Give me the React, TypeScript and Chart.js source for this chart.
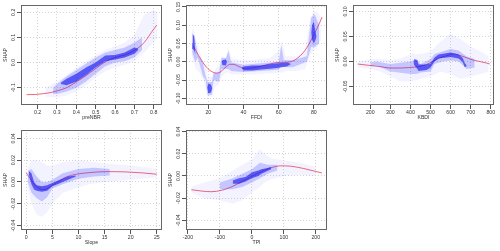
import React, { useEffect, useRef } from 'react';
import { Chart, registerables } from 'chart.js';

Chart.register(...registerables);

const FONT_FAMILY = "'Liberation Sans', Arial, sans-serif";
const FONT_SIZE = 5.2;
const TEXT_COLOR = '#333';

// ---- preNBR panel ([x, upper, lower] bands of the point cloud, fitted curve [x, y]) ----
const NBR_X_TICKS = [0.2, 0.3, 0.4, 0.5, 0.6, 0.7, 0.8];
const NBR_X_LABELS = ['0.2', '0.3', '0.4', '0.5', '0.6', '0.7', '0.8'];
const NBR_Y_TICKS = [-0.1, 0.0, 0.1, 0.2];
const NBR_Y_LABELS = ['-0.1', '0.0', '0.1', '0.2'];
const NBR_HALO: [number, number, number][] = [
  [0.24, -0.1, -0.135], [0.3, -0.075, -0.14], [0.35, -0.05, -0.13], [0.4, -0.02, -0.115],
  [0.45, 0.005, -0.09], [0.5, 0.03, -0.06], [0.55, 0.05, -0.035], [0.6, 0.065, -0.02],
  [0.65, 0.08, -0.01], [0.7, 0.11, 0.005], [0.75, 0.19, 0.04], [0.8, 0.21, 0.08], [0.82, 0.2, 0.1],
];
const NBR_MID: [number, number, number][] = [
  [0.28, -0.1, -0.125], [0.3, -0.085, -0.125], [0.35, -0.055, -0.115], [0.4, -0.03, -0.1],
  [0.45, -0.005, -0.075], [0.5, 0.02, -0.045], [0.55, 0.04, -0.015], [0.6, 0.05, 0.0],
  [0.65, 0.06, 0.005], [0.7, 0.08, 0.02], [0.74, 0.1, 0.05],
];
const NBR_CORE: [number, number, number][] = [
  [0.32, -0.08, -0.085], [0.35, -0.065, -0.09], [0.4, -0.045, -0.075], [0.45, -0.02, -0.05],
  [0.5, 0.0, -0.02], [0.55, 0.028, 0.005], [0.6, 0.03, 0.012], [0.65, 0.04, 0.02],
  [0.7, 0.06, 0.035], [0.72, 0.055, 0.05],
];
const NBR_FIT: [number, number][] = [
  [0.143, -0.128], [0.19, -0.127], [0.229, -0.124], [0.27, -0.119], [0.3, -0.113], [0.35, -0.1],
  [0.4, -0.077], [0.45, -0.052], [0.5, -0.024], [0.55, 0.003], [0.6, 0.02], [0.65, 0.03],
  [0.7, 0.048], [0.75, 0.079], [0.8, 0.133], [0.816, 0.149],
];

// ---- FFDI panel ----
const FFDI_X_TICKS = [20, 40, 60, 80];
const FFDI_X_LABELS = ['20', '40', '60', '80'];
const FFDI_Y_TICKS = [-0.1, -0.05, 0.0, 0.05, 0.1, 0.15];
const FFDI_Y_LABELS = ['-0.10', '-0.05', '0.00', '0.05', '0.10', '0.15'];
const FFDI_HALO: [number, number, number][] = [
  [10.5, 0.08, 0.02], [11.5, 0.095, 0.0], [13, 0.06, -0.02], [15, 0.03, -0.03], [17, 0.0, -0.05],
  [18.5, -0.01, -0.07], [19.5, -0.04, -0.095], [22, -0.04, -0.095], [24, -0.02, -0.07],
  [26, -0.01, -0.06], [27.5, 0.015, -0.04], [30, 0.012, -0.03], [31.5, 0.04, -0.03],
  [33, 0.01, -0.035], [38, 0.005, -0.035], [45, 0.005, -0.035], [55, 0.01, -0.032],
  [60, 0.03, -0.03], [62, 0.055, -0.03], [64, 0.015, -0.025], [70, 0.015, -0.025],
  [75, 0.03, -0.02], [78, 0.12, 0.02], [80, 0.14, 0.03], [82, 0.135, 0.04], [84, 0.12, 0.06],
];
const FFDI_MID: [number, number, number][] = [
  [10.8, 0.08, 0.025], [12.5, 0.06, 0.0], [14, 0.02, 0.01], [17, -0.005, -0.04], [18.5, -0.04, -0.05],
  [19.5, -0.055, -0.09], [22, -0.055, -0.09], [23, -0.03, -0.05], [26, -0.03, -0.055],
  [27.5, 0.01, -0.02], [30, 0.01, -0.02], [31.5, 0.03, -0.02], [33, -0.002, -0.025],
  [40, -0.008, -0.028], [50, -0.004, -0.025], [60, 0.0, -0.022], [61.5, 0.045, -0.01],
  [63, 0.005, -0.015], [68, 0.004, -0.015], [76, 0.015, 0.0], [78.5, 0.12, 0.04],
  [80.5, 0.13, 0.04], [83, 0.1, 0.05],
];
const FFDI_CORE: [number, number, number][] = [
  [10.8, 0.05, 0.05], [11.2, 0.075, 0.035], [12, 0.07, 0.03], [12.6, 0.02, 0.02],
  [19.4, -0.07, -0.07], [20, -0.06, -0.086], [21.5, -0.062, -0.084], [22.2, -0.072, -0.072],
  [27.6, 0.0, 0.0], [28, 0.004, -0.009], [30, 0.006, -0.01], [30.6, 0.0, 0.0],
  [39, -0.018, -0.018], [40, -0.013, -0.024], [45, -0.01, -0.024], [50, -0.01, -0.021],
  [55, -0.007, -0.019], [60, -0.004, -0.016], [65, -0.002, -0.012], [67, -0.006, -0.006],
  [78.6, 0.08, 0.08], [79, 0.1, 0.06], [80, 0.11, 0.05], [81, 0.08, 0.06], [81.6, 0.07, 0.07],
];
const FFDI_FIT: [number, number][] = [
  [11.5, 0.043], [13, 0.03], [14.5, 0.017], [16, 0.005], [17.5, -0.006], [19, -0.015],
  [20.5, -0.022], [22.5, -0.028], [24.5, -0.031], [26.5, -0.029], [28.5, -0.021], [30.5, -0.012],
  [32.5, -0.007], [34.5, -0.007], [36.5, -0.011], [39, -0.016], [42, -0.018], [46, -0.016],
  [50, -0.012], [55, -0.006], [60, -0.002], [65, -0.001], [68, 0.002], [71, 0.011], [74, 0.025],
  [77, 0.046], [80, 0.074], [82.5, 0.098], [84.7, 0.122],
];

// ---- KBDI panel ----
const KBDI_X_TICKS = [200, 300, 400, 500, 600, 700, 800];
const KBDI_X_LABELS = ['200', '300', '400', '500', '600', '700', '800'];
const KBDI_Y_TICKS = [-0.05, 0.0, 0.05, 0.1];
const KBDI_Y_LABELS = ['-0.05', '0.00', '0.05', '0.10'];
const KBDI_HALO: [number, number, number][] = [
  [140, 0.0, -0.012], [200, 0.005, -0.015], [250, 0.005, -0.02], [300, 0.003, -0.03],
  [350, 0.006, -0.04], [400, 0.015, -0.04], [450, 0.015, -0.035], [500, 0.02, -0.03],
  [550, 0.04, -0.02], [600, 0.055, -0.025], [650, 0.045, -0.035], [700, 0.03, -0.03],
  [750, 0.02, -0.025], [790, 0.01, -0.02],
];
const KBDI_MID: [number, number, number][] = [
  [200, -0.002, -0.01], [230, 0.0, -0.008], [300, -0.005, -0.02], [400, 0.0, -0.025],
  [430, 0.005, -0.025], [450, -0.005, -0.022], [500, 0.005, -0.02], [520, 0.015, -0.005],
  [560, 0.02, 0.0], [600, 0.025, 0.002], [640, 0.022, 0.0], [680, 0.01, -0.015], [720, 0.005, -0.012],
];
const KBDI_CORE: [number, number, number][] = [
  [415, -0.003, -0.003], [420, 0.005, -0.008], [435, 0.002, -0.015], [440, -0.006, -0.019],
  [480, -0.006, -0.017], [500, -0.004, -0.012], [520, 0.008, 0.0], [540, 0.014, 0.006],
  [600, 0.018, 0.009], [640, 0.014, 0.006], [660, 0.007, -0.001], [670, -0.003, -0.011],
  [680, -0.008, -0.01],
];
const KBDI_FIT: [number, number][] = [
  [137, -0.005], [200, -0.008], [245, -0.01], [303, -0.013], [350, -0.013], [395, -0.012],
  [445, -0.01], [480, -0.006], [510, 0.0], [545, 0.007], [575, 0.011], [600, 0.014], [620, 0.015],
  [640, 0.013], [662, 0.01], [690, 0.006], [712, 0.003], [745, 0.0], [778, -0.003], [795, -0.005],
];

// ---- Slope panel ----
const SLOPE_X_TICKS = [0, 5, 10, 15, 20, 25];
const SLOPE_X_LABELS = ['0', '5', '10', '15', '20', '25'];
const SLOPE_Y_TICKS = [-0.04, -0.02, 0.0, 0.02, 0.04];
const SLOPE_Y_LABELS = ['-0.04', '-0.02', '0.00', '0.02', '0.04'];
const SLOPE_HALO: [number, number, number][] = [
  [0.2, 0.012, -0.005], [1, 0.02, -0.02], [2, 0.02, -0.03], [3, 0.018, -0.032], [4, 0.015, -0.028],
  [5, 0.015, -0.02], [7, 0.018, -0.01], [10, 0.02, -0.005], [12, 0.019, -0.002], [15, 0.017, 0.0],
  [20, 0.015, 0.002], [25, 0.012, 0.004],
];
const SLOPE_MID: [number, number, number][] = [
  [0.3, 0.01, 0.0], [1, 0.012, -0.01], [2, 0.005, -0.015], [3, 0.0, -0.018], [4, 0.0, -0.014],
  [5, 0.002, -0.006], [7, 0.008, -0.002], [10, 0.012, 0.003], [13, 0.013, 0.005], [16, 0.012, 0.006],
];
const SLOPE_CORE: [number, number, number][] = [
  [0.5, 0.01, 0.007], [1, 0.008, -0.002], [1.5, 0.0, -0.007], [2, -0.003, -0.008],
  [3, -0.004, -0.009], [4, -0.003, -0.008], [5, -0.001, -0.004], [6, 0.001, -0.002],
  [8, 0.005, 0.002], [9.5, 0.006, 0.005],
];
const SLOPE_FIT: [number, number][] = [
  [0, 0.0083], [0.76, 0.003], [1.4, -0.0015], [2.35, -0.0055], [3.3, -0.007], [4.25, -0.0055],
  [5.2, -0.0025], [6.5, 0.0015], [7.7, 0.0046], [9.6, 0.0071], [12.2, 0.0086], [15.4, 0.0095],
  [19.2, 0.0092], [22.3, 0.0083], [25, 0.0071],
];

// ---- TPI panel ----
const TPI_X_TICKS = [-200, -100, 0, 100, 200];
const TPI_X_LABELS = ['-200', '-100', '0', '100', '200'];
const TPI_Y_TICKS = [-0.04, -0.02, 0.0, 0.02, 0.04];
const TPI_Y_LABELS = ['-0.04', '-0.02', '0.00', '0.02', '0.04'];
const TPI_HALO: [number, number, number][] = [
  [-190, -0.01, -0.015], [-150, -0.006, -0.02], [-100, -0.002, -0.022], [-60, 0.005, -0.025],
  [-30, 0.01, -0.022], [0, 0.015, -0.015], [25, 0.024, -0.01], [40, 0.02, -0.006],
  [60, 0.016, -0.003], [100, 0.014, 0.0], [150, 0.012, 0.001], [200, 0.008, 0.0],
];
const TPI_MID: [number, number, number][] = [
  [-100, -0.006, -0.012], [-60, -0.002, -0.012], [-30, 0.002, -0.01], [0, 0.006, -0.006],
  [25, 0.012, -0.002], [50, 0.01, 0.002], [80, 0.01, 0.005],
];
const TPI_CORE: [number, number, number][] = [
  [-60, -0.004, -0.007], [-40, -0.002, -0.007], [-20, -0.001, -0.005], [0, 0.003, -0.002],
  [20, 0.005, 0.0], [30, 0.006, 0.002], [45, 0.007, 0.004], [60, 0.008, 0.006],
];
const TPI_FIT: [number, number][] = [
  [-189, -0.0124], [-158, -0.0136], [-127, -0.0142], [-96, -0.013], [-65, -0.01], [-34, -0.0055],
  [-3, -0.0009], [28, 0.0036], [59, 0.0073], [90, 0.0091], [121, 0.0088], [162, 0.0067],
  [198, 0.0042], [219, 0.0027],
];

type Band = [number, number, number][];

interface PanelDef {
  title: string;
  left: number;
  top: number;
  xMin: number; xMax: number; yMin: number; yMax: number;
  xTicks: number[]; xLabels: string[]; yTicks: number[]; yLabels: string[];
  halo: Band; mid: Band; core: Band; fit: [number, number][];
}

const PANELS: PanelDef[] = [
  { title: 'preNBR', left: 0, top: 0, xMin: 0.114, xMax: 0.843, yMin: -0.169, yMax: 0.229,
    xTicks: NBR_X_TICKS, xLabels: NBR_X_LABELS, yTicks: NBR_Y_TICKS, yLabels: NBR_Y_LABELS,
    halo: NBR_HALO, mid: NBR_MID, core: NBR_CORE, fit: NBR_FIT },
  { title: 'FFDI', left: 165, top: 0, xMin: 7.3, xMax: 87.5, yMin: -0.118, yMax: 0.155,
    xTicks: FFDI_X_TICKS, xLabels: FFDI_X_LABELS, yTicks: FFDI_Y_TICKS, yLabels: FFDI_Y_LABELS,
    halo: FFDI_HALO, mid: FFDI_MID, core: FFDI_CORE, fit: FFDI_FIT },
  { title: 'KBDI', left: 332, top: 0, xMin: 114, xMax: 816, yMin: -0.087, yMax: 0.113,
    xTicks: KBDI_X_TICKS, xLabels: KBDI_X_LABELS, yTicks: KBDI_Y_TICKS, yLabels: KBDI_Y_LABELS,
    halo: KBDI_HALO, mid: KBDI_MID, core: KBDI_CORE, fit: KBDI_FIT },
  { title: 'Slope', left: 0, top: 125, xMin: -1, xMax: 26, yMin: -0.0441, yMax: 0.0477,
    xTicks: SLOPE_X_TICKS, xLabels: SLOPE_X_LABELS, yTicks: SLOPE_Y_TICKS, yLabels: SLOPE_Y_LABELS,
    halo: SLOPE_HALO, mid: SLOPE_MID, core: SLOPE_CORE, fit: SLOPE_FIT },
  { title: 'TPI', left: 165, top: 125, xMin: -206, xMax: 235, yMin: -0.0487, yMax: 0.0414,
    xTicks: TPI_X_TICKS, xLabels: TPI_X_LABELS, yTicks: TPI_Y_TICKS, yLabels: TPI_Y_LABELS,
    halo: TPI_HALO, mid: TPI_MID, core: TPI_CORE, fit: TPI_FIT },
];

const CANVAS_W = 166;
const CANVAS_H = 125;
const AXIS_LEFT = 21;
const AXIS_BOTTOM = 20;

function widestLabel(labels: string[]): number {
  const c = document.createElement('canvas').getContext('2d');
  if (!c) return 0;
  c.font = `${FONT_SIZE}px ${FONT_FAMILY}`;
  return Math.max(...labels.map((l) => c.measureText(l).width));
}

function bandDatasets(band: Band, color: string) {
  const common = {
    borderColor: 'rgba(0,0,0,0)',
    borderWidth: 0,
    pointRadius: 0,
    backgroundColor: color,
    tension: 0,
  };
  return [
    { ...common, data: band.map((b) => ({ x: b[0], y: b[2] })), fill: false },
    { ...common, data: band.map((b) => ({ x: b[0], y: b[1] })), fill: '-1' },
  ];
}

const boxPlugin = {
  id: 'rbox',
  afterDraw(chart: any) {
    const { ctx, chartArea: a } = chart;
    ctx.save();
    ctx.strokeStyle = '#666';
    ctx.lineWidth = 1;
    ctx.strokeRect(a.left + 0.5, a.top + 0.5, a.right - a.left - 1, a.bottom - a.top - 1);
    ctx.restore();
  },
};

function Panel({ def }: { def: PanelDef }) {
  const ref = useRef<HTMLCanvasElement | null>(null);
  useEffect(() => {
    if (!ref.current) return;
    const font = { family: FONT_FAMILY, size: FONT_SIZE };
    const yPad = 3.7 - widestLabel(def.yLabels) / 2;
    const grid = {
      color: '#d3d3d3',
      lineWidth: 1,
      drawTicks: true,
      tickLength: 4,
      tickColor: '#555',
      tickWidth: 1,
      tickBorderDash: [],
    };
    const chart = new Chart(ref.current, {
      type: 'line',
      data: {
        datasets: [
          ...bandDatasets(def.halo, 'rgba(90,90,255,0.07)'),
          ...bandDatasets(def.mid, 'rgba(60,60,255,0.25)'),
          ...bandDatasets(def.core, 'rgba(10,10,235,0.65)'),
          {
            data: def.fit.map((p) => ({ x: p[0], y: p[1] })),
            borderColor: 'rgba(240,50,70,0.75)',
            borderWidth: 1,
            pointRadius: 0,
            fill: false,
            cubicInterpolationMode: 'monotone',
          },
        ] as any,
      },
      options: {
        responsive: false,
        animation: false,
        events: [],
        layout: { padding: { top: 5, right: 4, left: 0, bottom: 0 }, autoPadding: false } as any,
        plugins: { legend: { display: false }, tooltip: { enabled: false } },
        scales: {
          x: {
            type: 'linear',
            min: def.xMin,
            max: def.xMax,
            afterBuildTicks: (s: any) => { s.ticks = def.xTicks.map((v) => ({ value: v })); },
            afterFit: (s: any) => { s.height = AXIS_BOTTOM; },
            ticks: {
              autoSkip: false, minRotation: 0, maxRotation: 0, padding: 0, font, color: TEXT_COLOR,
              callback: (_v: any, i: number) => def.xLabels[i],
            },
            grid,
            border: { display: false, dash: [1, 2] },
            title: { display: true, text: def.title, font, color: TEXT_COLOR, padding: { top: 0, bottom: 4.5 } },
          },
          y: {
            type: 'linear',
            min: def.yMin,
            max: def.yMax,
            afterBuildTicks: (s: any) => { s.ticks = def.yTicks.map((v) => ({ value: v })); },
            afterFit: (s: any) => { s.width = AXIS_LEFT; },
            ticks: {
              autoSkip: false, minRotation: 90, maxRotation: 90, crossAlign: 'center', padding: yPad,
              font, color: TEXT_COLOR,
              callback: (_v: any, i: number) => def.yLabels[i],
            },
            grid,
            border: { display: false, dash: [1, 2] },
            title: { display: true, text: 'SHAP', font, color: TEXT_COLOR, padding: { top: 2.7, bottom: 0 } },
          },
        } as any,
      },
      plugins: [boxPlugin],
    });
    return () => chart.destroy();
  }, [def]);
  return (
    <canvas
      ref={ref}
      width={CANVAS_W}
      height={CANVAS_H}
      style={{ position: 'absolute', left: def.left, top: def.top, width: CANVAS_W, height: CANVAS_H }}
    />
  );
}

export default function App() {
  return (
    <div style={{ position: 'fixed', left: 0, top: 0, width: 500, height: 251, background: '#fff', overflow: 'hidden' }}>
      {PANELS.map((p) => (
        <Panel key={p.title} def={p} />
      ))}
    </div>
  );
}
